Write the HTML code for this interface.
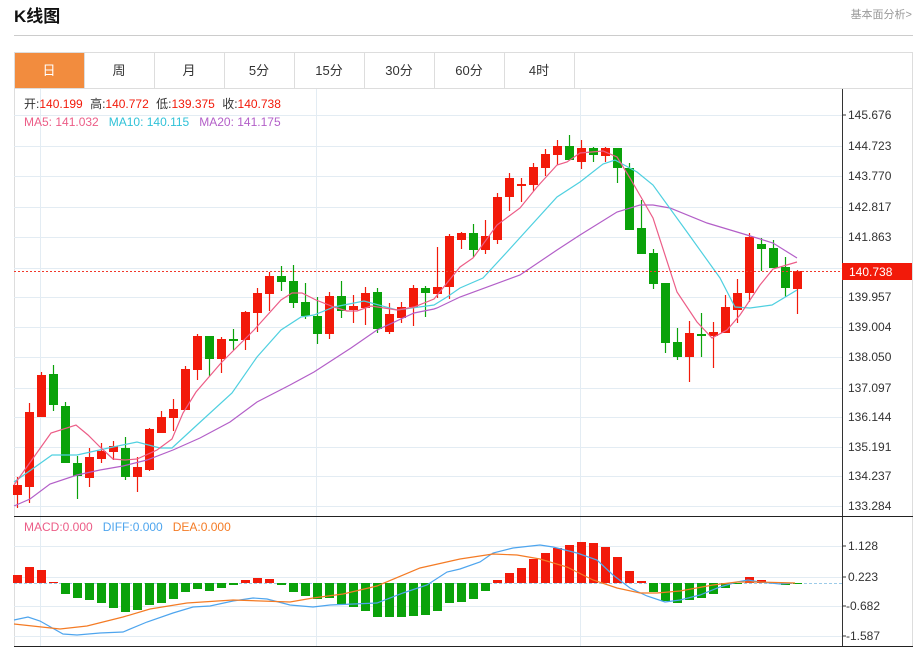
<!DOCTYPE html>
<html><head><meta charset="utf-8"><style>
body{margin:0;background:#fff;font-family:"Liberation Sans","Noto Sans CJK SC",sans-serif;}
svg{display:block}
text{font-family:"Liberation Sans","Noto Sans CJK SC",sans-serif}
</style></head><body>
<svg id="s" width="919" height="647" xmlns="http://www.w3.org/2000/svg">
<text x="14" y="22" font-size="17" font-weight="bold" fill="#111">K线图</text>
<text x="912" y="18" font-size="11" fill="#999" text-anchor="end">基本面分析&gt;</text>
<line x1="14" y1="35.5" x2="913" y2="35.5" stroke="#ccc"/>
<rect x="14.5" y="52.5" width="898" height="594" fill="none" stroke="#ddd"/>
<line x1="14" y1="88.5" x2="913" y2="88.5" stroke="#ddd"/>
<rect x="15" y="53" width="69" height="35" fill="#f28c3e"/>
<g stroke="#ddd"><line x1="84.5" y1="53" x2="84.5" y2="88"/><line x1="154.5" y1="53" x2="154.5" y2="88"/><line x1="224.5" y1="53" x2="224.5" y2="88"/><line x1="294.5" y1="53" x2="294.5" y2="88"/><line x1="364.5" y1="53" x2="364.5" y2="88"/><line x1="434.5" y1="53" x2="434.5" y2="88"/><line x1="504.5" y1="53" x2="504.5" y2="88"/><line x1="574.5" y1="53" x2="574.5" y2="88"/></g>
<g font-size="13" text-anchor="middle" fill="#333"><text x="49" y="75" fill="#fff">日</text><text x="119" y="75">周</text><text x="189" y="75">月</text><text x="259" y="75">5分</text><text x="329" y="75">15分</text><text x="399" y="75">30分</text><text x="469" y="75">60分</text><text x="539" y="75">4时</text></g>
<g id="grid" stroke="#e3ecf3"></g>
<g stroke="#e3ecf3"><line x1="40.5" y1="89" x2="40.5" y2="646"/><line x1="316.5" y1="89" x2="316.5" y2="646"/><line x1="580.5" y1="89" x2="580.5" y2="646"/></g>
<line x1="842.5" y1="89" x2="842.5" y2="646" stroke="#333"/>
<line x1="14" y1="516.5" x2="913" y2="516.5" stroke="#222"/>
<line x1="14" y1="646.5" x2="913" y2="646.5" stroke="#222"/>
<g id="candles"></g>
<polyline fill="none" stroke="#b35fc8" stroke-width="1.2" points="14,506 30,499 50,484 77,475 100,470 123,466 147,460 173,450 200,438 230,422 257,402 290,385 314,372 351,348 377,330 414,313 434,309 437,308 460,297 520,275 557,250 580,235 617,212 640,205 653,205 670,208 707,223 747,235 773,243 797,258"/>
<polyline fill="none" stroke="#4fd0e0" stroke-width="1.2" points="14,482 52,455 77,455 113,447 137,442 160,448 172,448 197,425 232,393 257,357 281,330 301,317 314,315 334,307 364,301 397,310 434,305 447,297 460,288 483,278 507,252 557,197 580,182 603,164 615,160 637,172 653,185 687,232 720,278 735,307 750,308 772,305 797,290"/>
<polyline fill="none" stroke="#ec5d87" stroke-width="1.2" points="14,485 51,433 76,425 88,435 100,447 113,459 125,460 137,459 157,450 172,439 183,413 196,392 221,363 254,330 281,300 292,293 302,293 316,300 334,307 347,311 357,311 371,306 384,308 397,310 414,307 434,299 460,267 473,258 497,225 520,208 537,187 557,165 567,162 580,153 603,151 617,157 630,178 653,218 677,292 697,322 712,338 727,330 740,315 760,285 773,269 797,262"/>
<line x1="14" y1="271.5" x2="842" y2="271.5" stroke="#f0392b" stroke-dasharray="2,2"/>
<rect x="842" y="263" width="70" height="17" fill="#f21a0a"/>
<text x="849" y="276" font-size="12" fill="#fff">140.738</text>
<g font-size="12" fill="#333"><text x="848" y="119">145.676</text><text x="848" y="150">144.723</text><text x="848" y="180">143.770</text><text x="848" y="211">142.817</text><text x="848" y="241">141.863</text><text x="848" y="301">139.957</text><text x="848" y="331">139.004</text><text x="848" y="361">138.050</text><text x="848" y="392">137.097</text><text x="848" y="421">136.144</text><text x="848" y="451">135.191</text><text x="848" y="480">134.237</text><text x="848" y="510">133.284</text>
<text x="848" y="550">1.128</text><text x="848" y="581">0.223</text><text x="846" y="610">-0.682</text><text x="846" y="640">-1.587</text></g>
<g stroke="#333"><line x1="842" y1="115" x2="846" y2="115"/><line x1="842" y1="546" x2="846" y2="546"/><line x1="842" y1="577" x2="846" y2="577"/><line x1="842" y1="606" x2="846" y2="606"/><line x1="842" y1="636" x2="846" y2="636"/></g>
<text x="24" y="108" font-size="12" fill="#f21a0a"><tspan fill="#333">开:</tspan>140.199 <tspan fill="#333" dx="4">高:</tspan>140.772 <tspan fill="#333" dx="4">低:</tspan>139.375 <tspan fill="#333" dx="4">收:</tspan>140.738</text>
<text x="24" y="126" font-size="12"><tspan fill="#ec5d87">MA5: 141.032</tspan><tspan fill="#30c2d8" dx="10">MA10: 140.115</tspan><tspan fill="#b35fc8" dx="10">MA20: 141.175</tspan></text>
<text x="24" y="531" font-size="12"><tspan fill="#ec5d87">MACD:0.000</tspan><tspan fill="#4ea5ee" dx="10">DIFF:0.000</tspan><tspan fill="#f47b25" dx="10">DEA:0.000</tspan></text>
<line x1="14" y1="583.5" x2="842" y2="583.5" stroke="#9ccbe8" stroke-dasharray="3,2"/>
<g id="bars"></g>
<polyline fill="none" stroke="#4ea5ee" stroke-width="1.2" points="14,620 28,617 40,621 63,634 77,635 100,633 123,632 147,622 173,613 193,607 210,606 233,601 253,598 267,599 290,605 313,607 330,605 377,603 403,593 427,585 447,572 460,569 480,562 493,553 513,548 540,545 553,547 577,553 597,560 613,575 630,588 647,596 665,602 680,600 700,595 720,587 737,582 748,580 760,582 780,584 793,583"/>
<polyline fill="none" stroke="#f47b25" stroke-width="1.2" points="14,624 60,629 87,626 123,617 150,609 187,603 233,600 290,602 313,598 343,594 377,586 420,568 460,559 493,554 517,555 540,559 567,567 593,580 617,588 640,593 657,593 680,591 713,585 737,582 760,582 795,583"/>
</svg>
<script>
var NS="http://www.w3.org/2000/svg";
function el(p,t,a){var e=document.createElementNS(NS,t);for(var k in a)e.setAttribute(k,a[k]);p.appendChild(e);return e;}
var g=document.getElementById("grid");
[115,146,176,207,237,268,297,327,357,388,417,447,476,506,546,577,606,636].forEach(function(y){el(g,"line",{x1:14,x2:842,y1:y+.5,y2:y+.5});});
// [top,bottom,high,low,red]
var C=[[485,495,477,508,1],[412,487,403,503,1],[375,417,372,417,1],[374,405,365,411,0],[406,463,402,463,0],[463,476,456,499,0],[457,478,448,487,1],[451,459,443,463,1],[446,452,441,460,1],[448,477,437,480,0],[467,477,457,492,1],[429,470,428,471,1],[417,433,411,433,1],[409,418,399,431,1],[369,410,366,410,1],
[336,370,334,380,1],[336,359,336,376,0],[339,359,337,373,1],[339,341,329,350,0],[312,340,311,350,1],[293,313,288,332,1],[276,294,272,311,1],[276,282,266,291,0],[281,303,265,308,0],[302,316,283,319,0],[316,334,297,344,0],[296,334,292,339,1],[296,311,281,318,0],[306,310,295,323,1],[293,308,287,325,1],[292,329,288,333,0],[314,332,303,334,1],[307,318,302,323,1],[288,307,285,326,1],[288,293,286,317,0],
[287,294,247,298,1],[236,287,234,299,1],[233,240,232,249,1],[233,250,224,257,0],[236,250,220,254,1],[197,240,193,244,1],[178,197,173,211,1],[184,186,178,202,1],[167,185,163,191,1],[154,168,149,176,1],[146,155,140,165,1],[146,160,135,160,0],[148,162,140,169,1],[148,155,147,162,0],[148,156,147,162,1],[148,168,148,183,0],[168,230,163,230,0],[228,254,200,254,0],[253,284,249,289,0],[283,343,283,353,0],[342,357,328,360,0],[333,357,321,382,1],[334,336,313,357,0],[332,336,322,368,1],[307,333,295,333,1],[293,310,279,323,1],[237,293,233,302,1],[244,249,238,271,0],[248,268,240,268,0],[267,288,257,297,0],[271,289,270,314,1]];
var cg=document.getElementById("candles");
C.forEach(function(c,i){var x=17+12*i,col=c[4]?"#f21a0a":"#0aa20a";
el(cg,"line",{x1:x+.5,x2:x+.5,y1:c[2],y2:c[3],stroke:col,"stroke-width":1.2});
el(cg,"rect",{x:x-4,y:c[0],width:9,height:Math.max(2,c[1]-c[0]),fill:col});});
var B=[575,567,570,582,594,598,600,603,608,612,610,605,603,599,592,589,591,588,585,580,578,579,585,592,596,599,598,604,607,611,617,617,617,616,615,611,603,602,599,591,580,573,568,559,553,548,545,542,543,547,557,571,581,592,601,603,600,598,594,588,584,577,580,582,585,584];
var bg=document.getElementById("bars");
B.forEach(function(y,i){var x=17+12*i,z=583,col=y<z?"#f21a0a":"#0aa20a";
var t=Math.min(y,z),h=Math.abs(y-z);if(h<1)return;
el(bg,"rect",{x:x-4,y:t,width:9,height:h,fill:col});});
</script>
</body></html>
